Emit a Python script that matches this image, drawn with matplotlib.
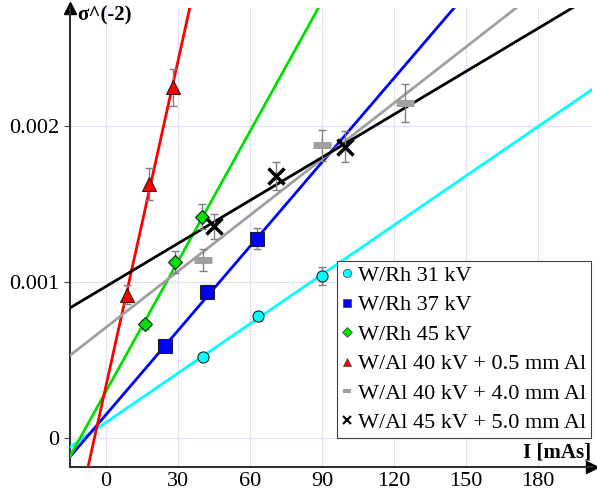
import numpy as np
import matplotlib
matplotlib.use('Agg')
import matplotlib.pyplot as plt
from matplotlib.lines import Line2D

plt.rcParams['font.family'] = ['Liberation Serif', 'DejaVu Serif']

# series: names, colours, markers
names = ['W/Rh 31 kV', 'W/Rh 37 kV', 'W/Rh 45 kV',
         'W/Al 40 kV + 0.5 mm Al', 'W/Al 40 kV + 4.0 mm Al', 'W/Al 45 kV + 5.0 mm Al']
colors = ['#00ffff', '#0000ff', '#00e000', '#ff0000', '#a0a0a0', '#000000']
markers = ['o', 's', 'D', '^', '_', 'x']

# measured points (I in mAs, sigma^-2) and error bars
x_rh31 = [40.4, 63.3, 90.0]
y_rh31 = [0.00052, 0.00078, 0.00104]
e_rh31 = [0.00002, 0.00003, 0.00006]

x_rh37 = [24.6, 42.1, 62.9]
y_rh37 = [0.00059, 0.00094, 0.00128]
e_rh37 = [0.00002, 0.00004, 0.00007]

x_rh45 = [16.3, 28.8, 40.0]
y_rh45 = [0.00073, 0.00113, 0.00142]
e_rh45 = [0.00003, 0.00007, 0.00008]

x_al05 = [8.75, 17.9, 27.9]
y_al05 = [0.00092, 0.00163, 0.00225]
e_al05 = [0.00006, 0.0001, 0.00012]

x_al40 = [40.4, 90.0, 124.6]
y_al40 = [0.00114, 0.00188, 0.00215]
e_al40 = [0.00007, 0.0001, 0.00012]

x_al50 = [45.0, 70.8, 99.6]
y_al50 = [0.00136, 0.00168, 0.00187]
e_al50 = [0.00008, 0.00009, 0.0001]

# fitted lines y = a*x + b
slopes = [1.055e-5, 1.80e-5, 2.78e-5, 6.95e-5, 1.20e-5, 9.2e-6]
intercepts = [0.0001, 0.00015, 0.0003, 0.000335, 0.00071, 0.000973]

xs = [x_rh31, x_rh37, x_rh45, x_al05, x_al40, x_al50]
ys = [y_rh31, y_rh37, y_rh45, y_al05, y_al40, y_al50]
es = [e_rh31, e_rh37, e_rh45, e_al05, e_al40, e_al50]

fig = plt.figure(figsize=(5.97, 4.90), dpi=100)
ax = fig.add_axes([70/597, 23/490, 522/597, 459/490])
xmin, xmax = -15, 202.5
ymin, ymax = -0.000186, 0.00276
ax.set_xlim(xmin, xmax)
ax.set_ylim(ymin, ymax)

xx = np.array([xmin, xmax])
for i in range(6):
    ax.plot(xx, slopes[i]*xx + intercepts[i], color=colors[i], lw=2, zorder=3)

for i in range(6):
    ax.errorbar(xs[i], ys[i], yerr=es[i], fmt='none', ecolor='#808080',
                elinewidth=1, capsize=3, capthick=1, zorder=4)

ms = [8, 10, 7, 10, 13, 12]
for i in range(6):
    if markers[i] == 'x':
        ax.plot(xs[i], ys[i], 'x', color='black', ms=ms[i], mew=2.5, zorder=5)
    elif markers[i] == '_':
        ax.plot(xs[i], ys[i], '_', color='#a0a0a0', ms=ms[i], mew=5, zorder=5)
    else:
        ax.plot(xs[i], ys[i], markers[i], color=colors[i], ms=ms[i],
                mec='#202020', mew=0.8, zorder=5)

ax.set_xticks([0, 30, 60, 90, 120, 150, 180])
ax.set_yticks([0, 0.001, 0.002])
ax.set_yticklabels(['0', '0.001', '0.002'])
ax.grid(True, color='#e0e0fa', lw=0.9)
ax.set_axisbelow(True)
ax.tick_params(labelsize=16, direction='out', length=4, width=0.8, color='#404040')
ax.tick_params(axis='x', length=0)
for s in ['top', 'right']:
    ax.spines[s].set_visible(False)
for s in ['left', 'bottom']:
    ax.spines[s].set_linewidth(1.5)
    ax.spines[s].set_color('#303030')

# arrow heads on the axes
ax.plot(0, 1, '^', color='black', ms=8, transform=ax.transAxes, clip_on=False)
ax.plot(1, 0, '>', color='black', ms=8, transform=ax.transAxes, clip_on=False)

fig.text(77/597, 1-15/490, 'σ^(-2)', fontsize=15, fontweight='bold', va='center', ha='left')
fig.text(591/597, 1-452/490, 'I [mAs]', fontsize=15, fontweight='bold', va='center', ha='right')

leg_ms = [6, 6, 5, 6, 6, 6]
handles = []
for i in range(6):
    if markers[i] == 'x':
        h = Line2D([], [], ls='none', marker='x', color='black', ms=leg_ms[i], mew=1.5)
    elif markers[i] == '_':
        h = Line2D([], [], ls='none', marker='_', color='#a0a0a0', ms=leg_ms[i], mew=3)
    else:
        h = Line2D([], [], ls='none', marker=markers[i], color=colors[i],
                   ms=leg_ms[i], mec='#404040', mew=0.5)
    handles.append(h)
leg = ax.legend(handles, names, loc='upper right', bbox_to_anchor=(591/597, 1-261/490),
                bbox_transform=fig.transFigure, borderaxespad=0, fontsize=16,
                fancybox=False, framealpha=1, edgecolor='#404040',
                handlelength=0.5, handletextpad=0.25, labelspacing=0.4,
                borderpad=0.2)
leg.get_frame().set_linewidth(0.8)
leg.set_zorder(10)

fig.savefig('out.png', dpi=100)
